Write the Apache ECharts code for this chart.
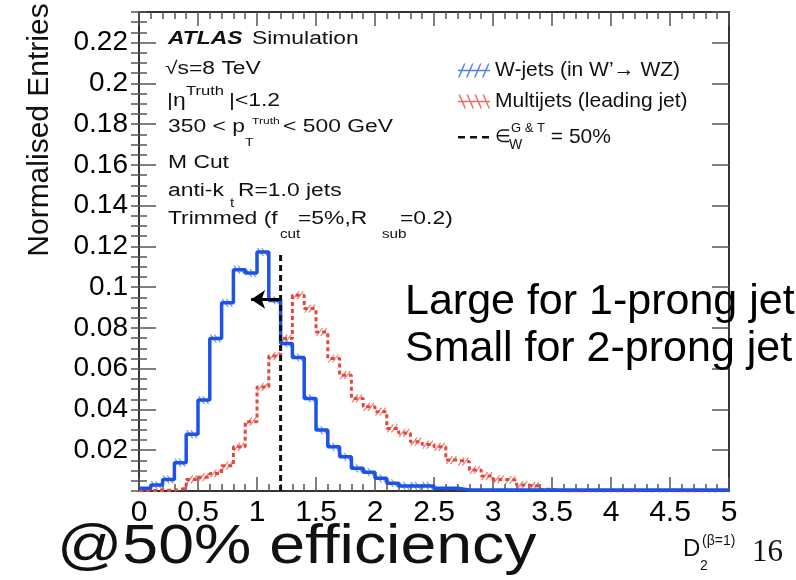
<!DOCTYPE html>
<html>
<head>
<meta charset="utf-8">
<script src="https://cdn.jsdelivr.net/npm/echarts@6/dist/echarts.min.js"></script>
<style>
  html, body { margin: 0; padding: 0; background: #fff; }
  #chart { width: 796px; height: 580px; }
</style>
</head>
<body>
<div id="chart"></div>
<script>
// histogram bins of D2, width 0.1, from 0 to 5
const binWidth = 0.1;
const xMax = 5;
const yMax = 0.235;

const wjetVals = [
  0.0013, 0.0029, 0.0057, 0.0139, 0.0279, 0.0446, 0.0748, 0.0923, 0.1086, 0.1070,
  0.1172, 0.0935, 0.0724, 0.0655, 0.0454, 0.0299, 0.0217, 0.0168, 0.0111, 0.0092,
  0.0062, 0.0038, 0.0025, 0.0025, 0.0025, 0.0013, 0.0013, 0.0005, 0.0005, 0.0005,
  0.0005, 0.0005, 0.0005, 0.0005, 0.0005, 0.0005, 0.0005, 0.0005, 0.0005, 0.0005,
  0.0005, 0.0005, 0.0005, 0.0005, 0.0005, 0.0005, 0.0005, 0.0005, 0.0005, 0.0005
];
const multijetVals = [
  0.0003, 0.0003, 0.0004, 0.0013, 0.0057, 0.0068, 0.0086, 0.0124, 0.0217, 0.0340,
  0.0510, 0.0662, 0.0748, 0.0960, 0.0895, 0.0780, 0.0650, 0.0568, 0.0454, 0.0413,
  0.0389, 0.0307, 0.0285, 0.0242, 0.0228, 0.0217, 0.0152, 0.0144, 0.0103, 0.0073,
  0.0057, 0.0054, 0.0029, 0.0024, 0.0008, 0, 0, 0, 0, 0,
  0, 0, 0, 0, 0, 0, 0, 0, 0, 0
];
// 50% signal efficiency cut and the arrow
const cutX = 1.2;
const cutTop = 0.116;
const arrowY = 0.094;
const arrowTip = 0.95;

const wName = 'W-jets (in W’→ WZ)';
const qcdName = 'Multijets (leading jet)';
const cutName = 'eff50';

const font = 'Liberation Sans, Arial, sans-serif';

function stepData(vals) {
  const pts = vals.map((v, i) => [+(i * binWidth).toFixed(2), v]);
  pts.push([xMax, vals[vals.length - 1]]);
  return pts;
}

function hatch(color, back) {
  return function (params, api) {
    const x0 = api.value(0), v = api.value(1);
    if (v < 0.002) return null;
    const a = api.coord([x0, v]);
    const b = api.coord([x0 + binWidth, v]);
    const w = b[0] - a[0];
    const kids = [0.3, 0.65].map(k => {
      const cx = a[0] + w * k;
      return {
        type: 'line',
        shape: back ? { x1: cx - 3, y1: a[1] - 4, x2: cx + 3, y2: a[1] + 4 }
                    : { x1: cx - 3, y1: a[1] + 4, x2: cx + 3, y2: a[1] - 4 },
        style: { stroke: color, lineWidth: 1.2 }
      };
    });
    return { type: 'group', children: kids };
  };
}

// text pieces of the plot, stretched like the original figure
function txt(x, y, text, size, extra) {
  return {
    type: 'text', x: x, y: y, scaleX: 1.27, z: 50,
    style: Object.assign({
      text: text, fontSize: size, fontFamily: font, fill: '#111',
      align: 'left', verticalAlign: 'middle'
    }, extra || {})
  };
}

const chart = echarts.init(document.getElementById('chart'));

const tickLine = { lineStyle: { color: '#555', width: 1.5 } };

chart.setOption({
  animation: false,
  backgroundColor: '#fff',
  grid: { left: 139, right: 67, top: 12, bottom: 89, outerBoundsMode: 'none' },
  legend: {
    orient: 'vertical',
    left: 458, top: 60, padding: 0,
    itemWidth: 32, itemHeight: 14, itemGap: 10,
    symbolKeepAspect: false,
    textStyle: {
      fontSize: 21, lineHeight: 14, fontFamily: font, color: '#111',
      rich: {
        e: { fontSize: 18, lineHeight: 30, fontFamily: font, color: '#111' },
        s: { fontSize: 13, lineHeight: 12, fontFamily: font, color: '#111', verticalAlign: 'top' },
        n: { fontSize: 21, lineHeight: 30, fontFamily: font, color: '#111' }
      }
    },
    formatter: name => name === cutName ? '{e|∈}{s|G & T}{n| = 50%}' : name,
    data: [
      {
        name: wName,
        icon: 'path://M0,14L6,0L7.5,0L1.5,14Z M8,14L14,0L15.5,0L9.5,14Z M16,14L22,0L23.5,0L17.5,14Z M24,14L30,0L31.5,0L25.5,14Z M0,6.3L32,6.3L32,7.7L0,7.7Z',
        itemStyle: { color: '#4d7ff0', borderWidth: 0 }
      },
      {
        name: qcdName,
        icon: 'path://M0.5,0L2,0L8,14L6.5,14Z M8.5,0L10,0L16,14L14.5,14Z M16.5,0L18,0L24,14L22.5,14Z M24.5,0L26,0L32,14L30.5,14Z M0,6.3L32,6.3L32,7.7L0,7.7Z',
        itemStyle: { color: '#ec6a60', borderWidth: 0 }
      },
      {
        name: cutName,
        icon: 'path://M0,0L0.1,0L0,0.1Z M0,6L7,6L7,8.5L0,8.5Z M12,6L19,6L19,8.5L12,8.5Z M24,6L31,6L31,8.5L24,8.5Z M32,14L31.9,14L32,13.9Z',
        itemStyle: { color: '#111', borderWidth: 0 }
      }
    ]
  },
  xAxis: [
    {
      type: 'value', min: 0, max: xMax, interval: 0.5, position: 'bottom',
      axisLine: { show: true, onZero: false, lineStyle: { color: '#333', width: 2 } },
      axisTick: Object.assign({ show: true, inside: true, length: 14 }, tickLine),
      minorTick: Object.assign({ show: true, splitNumber: 5, length: 7 }, tickLine),
      splitLine: { show: false },
      axisLabel: { fontSize: 30, fontFamily: font, color: '#000', margin: 7 }
    },
    {
      type: 'value', min: 0, max: xMax, interval: 0.5, position: 'top',
      axisLine: { show: true, onZero: false, lineStyle: { color: '#333', width: 2 } },
      axisTick: Object.assign({ show: true, inside: true, length: 14 }, tickLine),
      minorTick: Object.assign({ show: true, splitNumber: 5, length: 7 }, tickLine),
      splitLine: { show: false },
      axisLabel: { show: false }
    }
  ],
  yAxis: [
    {
      type: 'value', min: 0, max: yMax, interval: 0.02, position: 'left',
      axisLine: { show: true, onZero: false, lineStyle: { color: '#333', width: 2 } },
      axisTick: Object.assign({ show: true, inside: true, length: 17 }, tickLine),
      splitLine: { show: false },
      axisLabel: {
        fontSize: 28, fontFamily: font, color: '#000', margin: 11,
        showMinLabel: false, showMaxLabel: false
      }
    },
    {
      type: 'value', min: 0, max: yMax, interval: 0.005, position: 'left',
      axisLine: { show: false },
      axisTick: Object.assign({ show: true, inside: true, length: 8 }, tickLine),
      splitLine: { show: false },
      axisLabel: { show: false }
    },
    {
      type: 'value', min: 0, max: yMax, interval: 0.02, position: 'right',
      axisLine: { show: true, onZero: false, lineStyle: { color: '#333', width: 2 } },
      axisTick: Object.assign({ show: true, inside: true, length: 17 }, tickLine),
      splitLine: { show: false },
      axisLabel: { show: false }
    },
    {
      type: 'value', min: 0, max: yMax, interval: 0.005, position: 'right',
      axisLine: { show: false },
      axisTick: Object.assign({ show: true, inside: true, length: 8 }, tickLine),
      splitLine: { show: false },
      axisLabel: { show: false }
    }
  ],
  series: [
    {
      type: 'custom', name: 'qcdErr', z: 2,
      renderItem: hatch('#f07a70', false),
      data: multijetVals.map((v, i) => [i * binWidth, v])
    },
    {
      type: 'custom', name: 'wErr', z: 2,
      renderItem: hatch('#6f96f0', true),
      data: wjetVals.map((v, i) => [i * binWidth, v])
    },
    {
      name: qcdName, type: 'line', step: 'end', symbol: 'none', z: 3,
      lineStyle: { color: '#e8453c', width: 3, type: [4, 3] },
      itemStyle: { color: '#e8453c' },
      data: stepData(multijetVals)
    },
    {
      name: wName, type: 'line', step: 'end', symbol: 'none', z: 4,
      lineStyle: { color: '#1d52e6', width: 3.5 },
      itemStyle: { color: '#1d52e6' },
      data: stepData(wjetVals)
    },
    {
      name: cutName, type: 'line', symbol: 'none', z: 5,
      lineStyle: { color: '#111', width: 3, type: [6, 4] },
      itemStyle: { color: '#111' },
      data: [[cutX, 0], [cutX, cutTop]],
      markLine: {
        silent: true,
        symbol: ['none', 'arrow'],
        symbolSize: [14, 14],
        label: { show: false },
        lineStyle: { color: '#000', width: 3, type: 'solid' },
        data: [[{ coord: [cutX, arrowY] }, { coord: [arrowTip, arrowY] }]]
      }
    }
  ],
  graphic: [
    {
      type: 'text', x: 40, y: 130, rotation: Math.PI / 2, z: 50,
      style: { text: 'Normalised Entries', fontSize: 30, fontFamily: font, fill: '#111',
               align: 'center', verticalAlign: 'middle' }
    },
    txt(168, 39, 'ATLAS', 18, { fontWeight: 'bold', fontStyle: 'italic' }),
    txt(252, 39, 'Simulation', 18),
    txt(165, 69, '√s=8 TeV', 18),
    txt(167, 101, '|η', 18),
    txt(186, 91, 'Truth', 13),
    txt(229, 101, '|<1.2', 18),
    txt(168, 127, '350 < p', 18),
    txt(245, 143, 'T', 11),
    txt(252, 121, 'Truth', 9.5),
    txt(283, 127, '< 500 GeV', 18),
    txt(168, 163, 'M Cut', 18),
    txt(168, 191, 'anti-k', 18),
    txt(230, 204, 't', 12),
    txt(238, 191, 'R=1.0 jets', 18),
    txt(168, 219, 'Trimmed (f', 18),
    txt(280, 235, 'cut', 12),
    txt(298, 219, '=5%,R', 18),
    txt(382, 235, 'sub', 12),
    txt(400, 219, '=0.2)', 18),
    {
      type: 'text', x: 509, y: 145, z: 50,
      style: { text: 'W', fontSize: 14, fontFamily: font, fill: '#111', align: 'left', verticalAlign: 'middle' }
    },
    {
      type: 'text', x: 405, y: 302, z: 50,
      style: { text: 'Large for 1-prong jet', fontSize: 43, fontFamily: font, fill: '#000',
               align: 'left', verticalAlign: 'middle' }
    },
    {
      type: 'text', x: 405, y: 349, z: 50,
      style: { text: 'Small for 2-prong jet', fontSize: 43, fontFamily: font, fill: '#000',
               align: 'left', verticalAlign: 'middle' }
    },
    {
      type: 'text', x: 57, y: 548, scaleX: 1.15, z: 50,
      style: { text: '@50% efficiency', fontSize: 56, fontFamily: font, fill: '#111',
               align: 'left', verticalAlign: 'middle' }
    },
    {
      type: 'text', x: 683, y: 549, z: 50,
      style: { text: 'D', fontSize: 24, fontFamily: font, fill: '#111', align: 'left', verticalAlign: 'middle' }
    },
    {
      type: 'text', x: 700, y: 566, z: 50,
      style: { text: '2', fontSize: 14, fontFamily: font, fill: '#111', align: 'left', verticalAlign: 'middle' }
    },
    {
      type: 'text', x: 702, y: 541, z: 50,
      style: { text: '(β=1)', fontSize: 14, fontFamily: font, fill: '#111', align: 'left', verticalAlign: 'middle' }
    },
    {
      type: 'text', x: 752, y: 553, z: 50,
      style: { text: '16', fontSize: 31, fontFamily: 'Liberation Serif, serif', fill: '#111', align: 'left', verticalAlign: 'middle' }
    }
  ]
});
</script>
</body>
</html>
